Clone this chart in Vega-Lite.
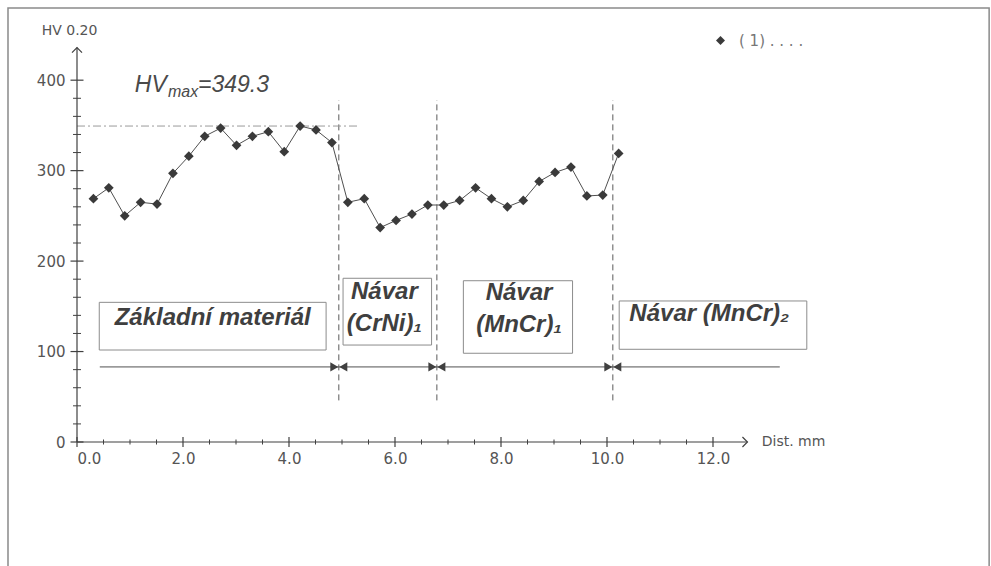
{
  "$schema": "https://vega.github.io/schema/vega-lite/v6.json",
  "autosize": {"type": "none"},
  "width": 742,
  "height": 398,
  "padding": {"left": 77, "top": 44, "right": 172, "bottom": 124},
  "background": "white",
  "config": {"view": {"stroke": null}},
  "resolve": {"axis": {"x": "independent", "y": "independent"}},
  "datasets": {
    "hv": [
      {"d": 0.31, "hv": 269}, {"d": 0.60, "hv": 281}, {"d": 0.90, "hv": 250}, {"d": 1.20, "hv": 265},
      {"d": 1.51, "hv": 263}, {"d": 1.81, "hv": 297}, {"d": 2.11, "hv": 316}, {"d": 2.41, "hv": 338},
      {"d": 2.71, "hv": 347}, {"d": 3.01, "hv": 328}, {"d": 3.31, "hv": 338}, {"d": 3.61, "hv": 343},
      {"d": 3.91, "hv": 321}, {"d": 4.21, "hv": 349.3}, {"d": 4.51, "hv": 345}, {"d": 4.81, "hv": 331},
      {"d": 5.11, "hv": 265}, {"d": 5.42, "hv": 269}, {"d": 5.72, "hv": 237}, {"d": 6.02, "hv": 245},
      {"d": 6.32, "hv": 252}, {"d": 6.62, "hv": 262}, {"d": 6.92, "hv": 262}, {"d": 7.22, "hv": 267},
      {"d": 7.52, "hv": 281}, {"d": 7.82, "hv": 269}, {"d": 8.12, "hv": 260}, {"d": 8.42, "hv": 267},
      {"d": 8.72, "hv": 288}, {"d": 9.02, "hv": 298}, {"d": 9.32, "hv": 304}, {"d": 9.62, "hv": 272},
      {"d": 9.92, "hv": 273}, {"d": 10.22, "hv": 319}
    ],
    "xmajor": [{"v": 0}, {"v": 2}, {"v": 4}, {"v": 6}, {"v": 8}, {"v": 10}, {"v": 12}],
    "xminor": [{"v": 0.5}, {"v": 1}, {"v": 1.5}, {"v": 2.5}, {"v": 3}, {"v": 3.5}, {"v": 4.5}, {"v": 5}, {"v": 5.5}, {"v": 6.5}, {"v": 7}, {"v": 7.5}, {"v": 8.5}, {"v": 9}, {"v": 9.5}, {"v": 10.5}, {"v": 11}, {"v": 11.5}],
    "ymajor": [{"v": 0}, {"v": 100}, {"v": 200}, {"v": 300}, {"v": 400}],
    "yminor": [{"v": 20}, {"v": 40}, {"v": 60}, {"v": 80}, {"v": 120}, {"v": 140}, {"v": 160}, {"v": 180}, {"v": 220}, {"v": 240}, {"v": 260}, {"v": 280}, {"v": 320}, {"v": 340}, {"v": 360}, {"v": 380}],
    "bounds": [{"b": 4.94}, {"b": 6.79}, {"b": 10.11}],
    "segments": [{"from": 0.43, "to": 4.94}, {"from": 4.94, "to": 6.79}, {"from": 6.79, "to": 10.11}, {"from": 10.11, "to": 13.26}],
    "boxes": [
      {"x1": 0.42, "x2": 4.70, "y1": 154.4, "y2": 101.7, "tx": 2.56, "ty": 137.6, "lines": ["Základní materiál"]},
      {"x1": 5.02, "x2": 6.69, "y1": 181.0, "y2": 107.2, "tx": 5.80, "ty": 165.3, "lines": ["Návar", "(CrNi)₁"]},
      {"x1": 7.29, "x2": 9.35, "y1": 178.3, "y2": 98.1, "tx": 8.34, "ty": 164.5, "lines": ["Návar", "(MnCr)₁"]},
      {"x1": 10.23, "x2": 13.77, "y1": 155.9, "y2": 102.5, "tx": 11.93, "ty": 141.0, "lines": ["Návar (MnCr)₂"]}
    ]
  },
  "layer": [
    {
      "data": {"values": [{}]},
      "mark": {"type": "rect", "fill": null, "stroke": "#8a8a8a", "strokeWidth": 1.5},
      "encoding": {
        "x": {"datum": -1.302, "type": "quantitative", "scale": {"domain": [0, 14], "nice": false, "zero": false}, "axis": null},
        "x2": {"datum": 17.21},
        "y": {"datum": 479.8, "type": "quantitative", "scale": {"domain": [0, 440], "nice": false, "zero": false}, "axis": null},
        "y2": {"datum": -150}
      }
    },
    {
      "data": {"name": "boxes"},
      "mark": {"type": "rect", "fill": null, "stroke": "#8c8c8c", "strokeWidth": 1},
      "encoding": {
        "x": {"field": "x1", "type": "quantitative", "axis": null},
        "x2": {"field": "x2"},
        "y": {"field": "y1", "type": "quantitative", "axis": null},
        "y2": {"field": "y2"}
      }
    },
    {
      "data": {"name": "boxes"},
      "mark": {"type": "text", "font": "Liberation Sans", "fontWeight": "bold", "fontStyle": "italic", "fontSize": 24, "color": "#3f3f3f", "align": "center", "baseline": "middle", "lineHeight": 32},
      "encoding": {
        "x": {"field": "tx", "type": "quantitative", "axis": null},
        "y": {"field": "ty", "type": "quantitative", "axis": null},
        "text": {"field": "lines"}
      }
    },
    {
      "data": {"name": "bounds"},
      "mark": {"type": "rule", "stroke": "#5a5a5a", "strokeWidth": 1, "strokeDash": [6, 4]},
      "encoding": {
        "x": {"field": "b", "type": "quantitative", "axis": null},
        "y": {"datum": 46, "type": "quantitative", "axis": null},
        "y2": {"datum": 378}
      }
    },
    {
      "data": {"values": [{}]},
      "mark": {"type": "rule", "stroke": "#9a9a9a", "strokeWidth": 1, "strokeDash": [8, 3, 2, 3]},
      "encoding": {
        "x": {"datum": 0, "type": "quantitative", "axis": null},
        "x2": {"datum": 5.33},
        "y": {"datum": 349.3, "type": "quantitative", "axis": null}
      }
    },
    {
      "data": {"name": "segments"},
      "mark": {"type": "rule", "stroke": "#505050", "strokeWidth": 1},
      "encoding": {
        "x": {"field": "from", "type": "quantitative", "axis": null},
        "x2": {"field": "to"},
        "y": {"datum": 83, "type": "quantitative", "axis": null}
      }
    },
    {
      "data": {"name": "bounds"},
      "mark": {"type": "point", "shape": "triangle-right", "filled": true, "color": "#404040", "size": 85, "opacity": 1, "xOffset": -4.5},
      "encoding": {
        "x": {"field": "b", "type": "quantitative", "axis": null},
        "y": {"datum": 83, "type": "quantitative", "axis": null}
      }
    },
    {
      "data": {"name": "bounds"},
      "mark": {"type": "point", "shape": "triangle-left", "filled": true, "color": "#404040", "size": 85, "opacity": 1, "xOffset": 4.5},
      "encoding": {
        "x": {"field": "b", "type": "quantitative", "axis": null},
        "y": {"datum": 83, "type": "quantitative", "axis": null}
      }
    },
    {
      "data": {"values": [{}]},
      "mark": {"type": "rule", "stroke": "#404040", "strokeWidth": 1.2},
      "encoding": {
        "x": {"datum": 0, "type": "quantitative", "axis": null},
        "x2": {"datum": 12.65},
        "y": {"datum": 0, "type": "quantitative", "axis": null}
      }
    },
    {
      "data": {"values": [{}]},
      "mark": {"type": "rule", "stroke": "#404040", "strokeWidth": 1.2},
      "encoding": {
        "x": {"datum": 0, "type": "quantitative", "axis": null},
        "y": {"datum": 0, "type": "quantitative", "axis": null},
        "y2": {"datum": 436}
      }
    },
    {
      "data": {"values": [{}]},
      "mark": {"type": "point", "shape": "M-1,-1L0,0L-1,1", "filled": false, "stroke": "#404040", "strokeWidth": 1.2, "size": 100, "opacity": 1},
      "encoding": {
        "x": {"datum": 12.65, "type": "quantitative", "axis": null},
        "y": {"datum": 0, "type": "quantitative", "axis": null}
      }
    },
    {
      "data": {"values": [{}]},
      "mark": {"type": "point", "shape": "M-1,1L0,0L1,1", "filled": false, "stroke": "#404040", "strokeWidth": 1.2, "size": 100, "opacity": 1},
      "encoding": {
        "x": {"datum": 0, "type": "quantitative", "axis": null},
        "y": {"datum": 436, "type": "quantitative", "axis": null}
      }
    },
    {
      "data": {"name": "xmajor"},
      "mark": {"type": "tick", "orient": "vertical", "color": "#404040", "thickness": 1.2, "size": 10, "opacity": 1},
      "encoding": {
        "x": {"field": "v", "type": "quantitative", "axis": {"orient": "bottom", "values": [0, 2, 4, 6, 8, 10, 12], "format": ".1f", "title": null, "domain": false, "ticks": false, "tickSize": 0, "grid": false, "labelPadding": 9, "labelFont": "DejaVu Sans", "labelFontSize": 15, "labelColor": "#555555"}},
        "y": {"datum": 0, "type": "quantitative", "axis": null}
      }
    },
    {
      "data": {"name": "xminor"},
      "mark": {"type": "tick", "orient": "vertical", "color": "#404040", "thickness": 1, "size": 5, "opacity": 1},
      "encoding": {
        "x": {"field": "v", "type": "quantitative", "axis": null},
        "y": {"datum": 0, "type": "quantitative", "axis": null}
      }
    },
    {
      "data": {"name": "ymajor"},
      "mark": {"type": "tick", "orient": "horizontal", "color": "#404040", "thickness": 1.2, "size": 13, "opacity": 1},
      "encoding": {
        "x": {"datum": 0, "type": "quantitative", "axis": null},
        "y": {"field": "v", "type": "quantitative", "axis": {"orient": "left", "values": [0, 100, 200, 300, 400], "title": null, "domain": false, "ticks": false, "tickSize": 0, "grid": false, "labelPadding": 12, "labelFont": "DejaVu Sans", "labelFontSize": 15, "labelColor": "#555555"}}
      }
    },
    {
      "data": {"name": "yminor"},
      "mark": {"type": "tick", "orient": "horizontal", "color": "#404040", "thickness": 1, "size": 8, "opacity": 1},
      "encoding": {
        "x": {"datum": 0, "type": "quantitative", "axis": null},
        "y": {"field": "v", "type": "quantitative", "axis": null}
      }
    },
    {
      "data": {"name": "hv"},
      "mark": {"type": "line", "stroke": "#505050", "strokeWidth": 1},
      "encoding": {
        "x": {"field": "d", "type": "quantitative", "axis": null},
        "y": {"field": "hv", "type": "quantitative", "axis": null}
      }
    },
    {
      "data": {"name": "hv"},
      "mark": {"type": "point", "shape": "diamond", "filled": true, "size": 95, "opacity": 1},
      "encoding": {
        "x": {"field": "d", "type": "quantitative", "axis": null},
        "y": {"field": "hv", "type": "quantitative", "axis": null},
        "color": {
          "datum": "( 1) . . . .",
          "type": "nominal",
          "scale": {"range": ["#3a3a3a"]},
          "legend": {"orient": "none", "legendX": 636, "legendY": -11, "title": null, "padding": 0, "symbolType": "diamond", "symbolSize": 80, "symbolStrokeWidth": 0, "labelFont": "DejaVu Sans", "labelFontSize": 15, "labelColor": "#777777", "labelOffset": 11}
        }
      }
    },
    {
      "data": {"values": [{"t": "HV 0.20", "px": -0.666, "py": 454.4}]},
      "mark": {"type": "text", "font": "DejaVu Sans", "fontSize": 14, "color": "#555555", "align": "left", "baseline": "middle"},
      "encoding": {
        "x": {"field": "px", "type": "quantitative", "axis": null},
        "y": {"field": "py", "type": "quantitative", "axis": null},
        "text": {"field": "t"}
      }
    },
    {
      "data": {"values": [{"t": "Dist. mm", "px": 12.92, "py": 0}]},
      "mark": {"type": "text", "font": "DejaVu Sans", "fontSize": 14, "color": "#555555", "align": "left", "baseline": "middle"},
      "encoding": {
        "x": {"field": "px", "type": "quantitative", "axis": null},
        "y": {"field": "py", "type": "quantitative", "axis": null},
        "text": {"field": "t"}
      }
    },
    {
      "data": {"values": [{"t": "HV", "px": 1.09, "py": 386.7}, {"t": "=349.3", "px": 2.283, "py": 387.3}]},
      "mark": {"type": "text", "font": "Liberation Sans", "fontStyle": "italic", "fontSize": 23, "color": "#4a4a4a", "align": "left", "baseline": "alphabetic"},
      "encoding": {
        "x": {"field": "px", "type": "quantitative", "axis": null},
        "y": {"field": "py", "type": "quantitative", "axis": null},
        "text": {"field": "t"}
      }
    },
    {
      "data": {"values": [{"t": "max", "px": 1.717, "py": 381}]},
      "mark": {"type": "text", "font": "Liberation Sans", "fontStyle": "italic", "fontSize": 16, "color": "#4a4a4a", "align": "left", "baseline": "alphabetic"},
      "encoding": {
        "x": {"field": "px", "type": "quantitative", "axis": null},
        "y": {"field": "py", "type": "quantitative", "axis": null},
        "text": {"field": "t"}
      }
    }
  ]
}
